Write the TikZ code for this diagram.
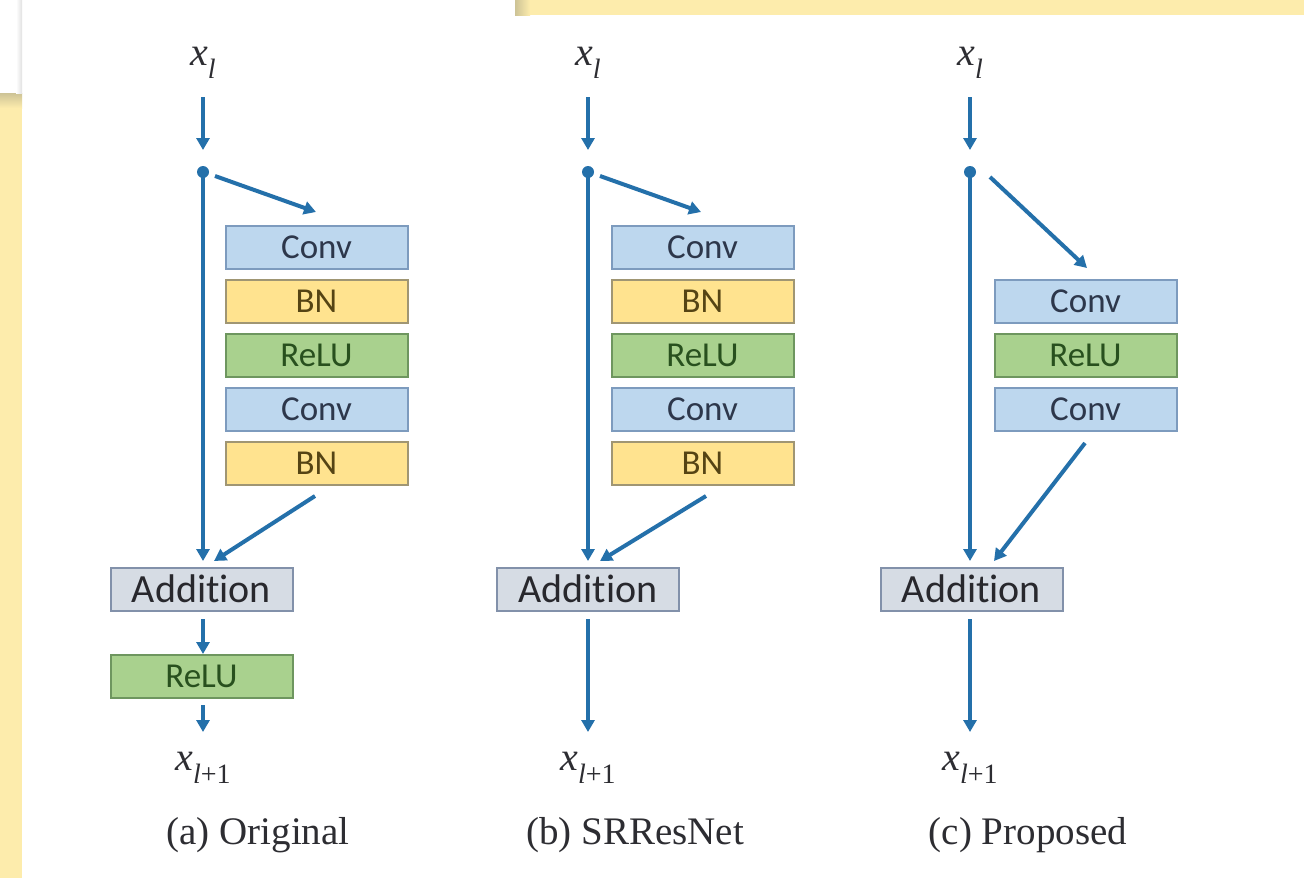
\documentclass[tikz,border=0pt]{standalone}
\usepackage{fontspec}
\setmainfont{Liberation Serif}
\newfontfamily\boxfont[Ligatures=NoCommon]{Carlito}
\usetikzlibrary{arrows.meta}
\definecolor{bgyellow}{RGB}{253,236,172}
\definecolor{shadowy}{RGB}{205,195,150}
\definecolor{flow}{RGB}{36,112,170}
\definecolor{convfill}{RGB}{189,215,238}
\definecolor{convdraw}{RGB}{125,155,190}
\definecolor{convtext}{RGB}{45,55,75}
\definecolor{bnfill}{RGB}{255,227,143}
\definecolor{bndraw}{RGB}{160,150,115}
\definecolor{bntext}{RGB}{85,68,20}
\definecolor{relufill}{RGB}{169,209,142}
\definecolor{reludraw}{RGB}{110,150,95}
\definecolor{relutext}{RGB}{40,80,30}
\definecolor{addfill}{RGB}{214,220,228}
\definecolor{adddraw}{RGB}{130,145,170}
\definecolor{addtext}{RGB}{40,40,45}
\definecolor{lbltext}{RGB}{45,45,50}
\newcommand{\lowsub}[1]{\raisebox{-0.32em}{\fontsize{14}{16}\selectfont #1}}
\tikzset{
  layer/.style={rectangle, minimum width=91pt, minimum height=21.5pt, inner sep=0pt, line width=1pt, font=\boxfont\fontsize{17.5}{20}\selectfont},
  convbox/.style={layer, fill=convfill, draw=convdraw, text=convtext},
  bnbox/.style={layer, fill=bnfill, draw=bndraw, text=bntext},
  relubox/.style={layer, fill=relufill, draw=reludraw, text=relutext},
  addbox/.style={layer, fill=addfill, draw=adddraw, text=addtext, font=\boxfont\fontsize{20}{24}\selectfont},
  flowline/.style={draw=flow, line width=2pt, -{Triangle[length=6pt,width=6.5pt]}},
  dotpt/.style={circle, fill=flow, inner sep=0pt, minimum size=6pt},
  xlabel/.style={text=lbltext, font=\fontsize{20}{22}\selectfont},
  caption/.style={text=lbltext, font=\fontsize{19.5}{22}\selectfont}
}
\begin{document}
\begin{tikzpicture}[x=0.5pt,y=-0.5pt]
\useasboundingbox (0,0) rectangle (1304,878);
% background
\fill[white] (0,0) rectangle (1304,878);
\fill[bgyellow] (515,0) rectangle (1304,15);
\shade[left color=shadowy, right color=bgyellow] (515,0) rectangle (530,15);
\fill[bgyellow] (0,93) rectangle (22,878);
\shade[top color=shadowy, bottom color=bgyellow] (0,93) rectangle (22,108);
\shade[left color=white, right color=black!12] (16,0) rectangle (22,93);

% ---------------- (a) Original ----------------
\node[xlabel] (axin) at (203,63) {\textit{x}\lowsub{\textit{l}}};
\coordinate (aintop) at (203,97);
\node[dotpt] (adot) at (203,172) {};
\node[convbox] (ac1) at (316.5,247.5) {Conv};
\node[bnbox]   (ab1) at (316.5,301) {BN};
\node[relubox] (ar1) at (316.5,355) {ReLU};
\node[convbox] (ac2) at (316.5,409.5) {Conv};
\node[bnbox]   (ab2) at (316.5,463) {BN};
\node[addbox]  (aadd) at (201.5,589) {Addit\kern0pt ion};
\node[relubox] (ar2) at (201.5,676.5) {ReLU};
\node[xlabel]  (axout) at (203,768) {\textit{x}\lowsub{\textit{l}+1}};
\node[caption] (acap) at (258,835) {(a) Original};
\coordinate (abranch) at (316,212);
\coordinate (areluin) at (203,654);
\draw[flowline] (aintop) -- (203,150);
\draw[flowline] (adot.center) -- (203,561);
\draw[flowline] (215,176) -- (abranch);
\draw[flowline] (315,496) -- (214,561);
\draw[flowline] (203,619) -- (areluin);
\draw[flowline] (203,705) -- (203,732);

% ---------------- (b) SRResNet ----------------
\node[xlabel] (bxin) at (588,63) {\textit{x}\lowsub{\textit{l}}};
\coordinate (bintop) at (588,97);
\node[dotpt] (bdot) at (588,172) {};
\node[convbox] (bc1) at (702.5,247.5) {Conv};
\node[bnbox]   (bb1) at (702.5,301) {BN};
\node[relubox] (br1) at (702.5,355) {ReLU};
\node[convbox] (bc2) at (702.5,409.5) {Conv};
\node[bnbox]   (bb2) at (702.5,463) {BN};
\node[addbox]  (badd) at (588,589) {Addit\kern0pt ion};
\node[xlabel]  (bxout) at (588,768) {\textit{x}\lowsub{\textit{l}+1}};
\node[caption] (bcap) at (635,835) {(b) SRResNet};
\coordinate (bbranch) at (701,212);
\draw[flowline] (bintop) -- (588,150);
\draw[flowline] (bdot.center) -- (588,561);
\draw[flowline] (600,176) -- (bbranch);
\draw[flowline] (706,496) -- (600,561);
\draw[flowline] (588,619) -- (588,732);

% ---------------- (c) Proposed ----------------
\node[xlabel] (cxin) at (970,63) {\textit{x}\lowsub{\textit{l}}};
\coordinate (cintop) at (970,97);
\node[dotpt] (cdot) at (970,172) {};
\node[convbox] (cc1) at (1085.5,301) {Conv};
\node[relubox] (cr1) at (1085.5,355) {ReLU};
\node[convbox] (cc2) at (1085.5,409.5) {Conv};
\node[addbox]  (cadd) at (971.5,589) {Addit\kern0pt ion};
\node[xlabel]  (cxout) at (970,768) {\textit{x}\lowsub{\textit{l}+1}};
\node[caption] (ccap) at (1028,835) {(c) Proposed};
\coordinate (cbranch) at (1087,268);
\draw[flowline] (cintop) -- (970,150);
\draw[flowline] (cdot.center) -- (970,561);
\draw[flowline] (990,177) -- (cbranch);
\draw[flowline] (1085,443) -- (994,561);
\draw[flowline] (970,619) -- (970,732);
\end{tikzpicture}
\end{document}
